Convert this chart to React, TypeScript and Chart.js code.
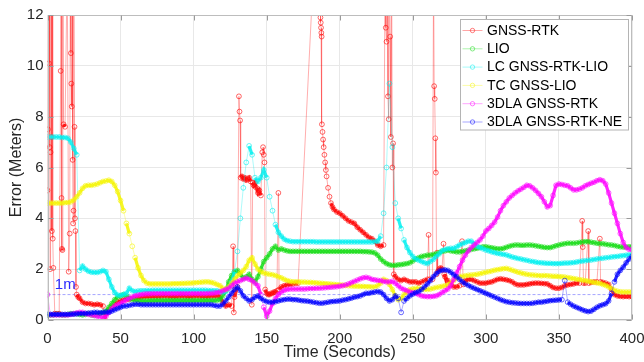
import React, { useEffect, useRef } from "react";
import { Chart, registerables } from "chart.js";

Chart.register(...registerables);

// ---------------- data ----------------
const SERIES_NAMES = [
  "GNSS-RTK",
  "LIO",
  "LC GNSS-RTK-LIO",
  "TC GNSS-LIO",
  "3DLA GNSS-RTK",
  "3DLA GNSS-RTK-NE",
];
const X_TICKS = [0, 50, 100, 150, 200, 250, 300, 350, 400];
const Y_TICKS = [0, 2, 4, 6, 8, 10, 12];
const X_TITLE = "Time (Seconds)";
const Y_TITLE = "Error (Meters)";
const REF_LABEL = "1m";
const REF_VALUE = 1;

// sample clock of the smooth series: one sample every 2 s, 0..400 s
const TIME: number[] = Array.from({ length: 201 }, (_, i) => i * 2);

// GNSS-RTK (irregular samples, spikes go past the top of the axis)
const RTK_T = [
  0, 0.3, 0.6, 0.9, 1.2, 1.5, 1.8, 2.1, 2.4, 2.7, 3.0, 3.3, 3.6, 4.0, 5.0, 6.5, 8.0,
  9.0, 9.3, 9.6, 9.9, 10.2, 10.5, 11.0, 12.0, 13.5, 14.5, 15.2, 15.6, 16.0, 16.3, 16.6,
  16.9, 17.2, 17.5, 17.8, 18.1, 18.5, 18.8, 19.1, 19.5, 20, 21, 22, 24, 26, 28, 30, 32,
  34, 36, 38, 39, 40, 42, 44, 46, 48, 50, 52, 54, 56, 58, 60, 62, 64, 66, 68,
  70, 72, 74, 76, 78, 80, 82, 84, 86, 88, 90, 92, 94, 96, 98, 100, 102, 104, 106, 108,
  110, 112, 114, 116, 118, 120, 122, 124, 126, 127, 127.5, 128, 130, 131, 131.4, 131.8,
  132.2, 133, 134, 135, 136, 137, 138, 139, 139.8, 140.4, 141, 142, 143, 144, 145, 146,
  147, 147.5, 148, 148.5, 149, 150, 151, 152, 153, 154, 155, 156, 157, 158, 158.5, 160,
  162, 164, 166, 168, 170, 171.5, 184, 186.5, 186.8, 187, 187.2, 187.4, 187.6, 187.8,
  188.2, 188.6, 189, 189.5, 190, 190.5, 191, 192, 193, 194, 195, 196, 198, 200, 202,
  204, 206, 208, 210, 212, 214, 216, 218, 220, 222, 224, 226, 228, 230, 231, 231.5, 232,
  232.5, 233, 233.5, 234, 234.5, 235, 235.5, 236, 236.5, 237, 238, 240, 242, 244, 246,
  248, 250, 252, 254, 256, 258, 260, 260.8, 261.5, 263.5, 264.2, 264.6, 265, 265.4,
  265.8, 266.3, 266.6, 267, 268, 269, 270, 271, 271.5, 272, 274, 276, 278, 280, 282,
  283.7, 284.5, 286, 288, 290, 292, 294, 296, 298, 300, 302, 304, 306, 308, 310, 312,
  314, 316, 318, 320, 322, 324, 326, 328, 330, 332, 334, 336, 338, 340, 342, 344, 346,
  348, 350, 352, 354, 356, 358, 360, 362, 364, 365.9, 366.3, 366.8, 368, 370, 370.5,
  372, 374, 376, 378, 378.5, 380, 382, 384, 386, 388, 390, 392, 394, 396, 398, 400,
];
const RTK_V = [
  5.1, 7.5, 14, 10.1, 14, 6.8, 2.0, 6.6, 14, 7.2, 3.5, 14, 3.2, 2.05, 0.25, 0.25, 0.25,
  9.8, 14, 4.8, 2.8, 2.75, 14, 7.7, 7.6, 14, 1.9, 3.4, 14, 10.5, 9.3, 8.4,
  14, 6.3, 3.8, 4.3, 14, 7.6, 4.0, 3.5, 1.3, 1.0, 0.9, 0.85, 0.7, 0.65, 0.65, 0.63, 0.6,
  0.62, 0.6, 0.55, 0.05, 0.25, 0.4, 0.5, 0.6, 0.7, 0.75, 0.8, 0.8, 0.82, 0.85, 0.86, 0.88, 0.9, 0.92, 0.93,
  0.93, 0.94, 0.93, 0.92, 0.94, 0.95, 0.94, 0.93, 0.92, 0.93, 0.94, 0.95, 0.94, 0.93, 0.93, 0.94, 0.95, 0.94, 0.93, 0.92,
  0.93, 0.94, 0.95, 0.94, 0.93, 0.7, 0.55, 0.6, 0.55, 2.9, 0.3, 0.9, 1.3, 8.8, 8.2, 7.85,
  5.6, 5.65, 5.55, 5.6, 5.5, 5.55, 5.6, 5.45, 0.6, 5.4, 5.3, 5.4, 5.2, 5.0, 5.1, 4.9,
  6.6, 6.8, 6.5, 6.2, 1.2, 1.05, 1.0, 1.0, 1.05, 1.05, 1.1, 1.1, 1.15, 5.0, 1.2, 1.3,
  1.35, 1.38, 1.4, 1.42, 1.45, 1.45, 16, 16, 11.9, 11.7, 11.5, 11.3, 11.15, 7.7,
  7.4, 7.1, 6.8, 6.5, 6.2, 5.9, 5.65, 5.2, 4.85, 4.6, 4.45, 4.35, 4.25, 4.2, 4.1,
  4.0, 3.9, 3.85, 3.8, 3.65, 3.55, 3.45, 3.35, 3.25, 3.2, 3.1, 2.95, 2.9, 2.95, 14, 11.5, 10.95,
  14, 8.8, 7.9, 14, 11.15, 7.2, 14, 6.0, 6.95, 1.8, 1.7, 1.6, 1.55, 1.6, 1.55,
  1.5, 1.5, 1.5, 1.45, 1.5, 1.55, 1.6, 3.35, 1.6, 1.6, 14, 9.2, 8.7, 7.15,
  5.8, 1.8, 2.65, 1.9, 2.0, 2.05, 2.0, 3.0, 1.8, 1.7, 1.55, 1.4, 1.3, 1.3, 1.35,
  3.1, 1.4, 1.55, 1.6, 1.6, 1.55, 1.5, 1.45, 1.45, 1.45, 1.48, 1.5, 1.55, 1.6, 1.62, 1.6,
  1.58, 1.55, 1.5, 1.42, 1.38, 1.38, 1.38, 1.4, 1.42, 1.44, 1.45, 1.45, 1.44, 1.43, 1.42, 1.35, 1.28,
  1.25, 1.25, 1.28, 1.35, 1.38, 1.4, 1.42, 1.45, 1.45, 3.9, 2.87, 1.45, 1.45, 3.5, 1.45,
  1.48, 1.5, 1.5, 3.2, 1.5, 1.48, 1.45, 1.4, 1.2, 1.0, 0.95, 0.93, 0.92, 0.93, 0.92, 0.92,
];

// LIO
const LIO = [
  0.2, 0.2, 0.2, 0.22, 0.22, 0.2, 0.2, 0.22, 0.25, 0.25,
  0.25, 0.22, 0.2, 0.22, 0.25, 0.2, 0.18, 0.2, 0.25, 0.3,
  0.35, 0.5, 0.65, 0.8, 0.9, 0.95, 1.0, 0.95, 0.85, 0.8,
  0.78, 0.76, 0.75, 0.75, 0.75, 0.76, 0.76, 0.77, 0.77, 0.77,
  0.77, 0.77, 0.77, 0.77, 0.77, 0.77, 0.77, 0.77, 0.77, 0.77,
  0.77, 0.77, 0.77, 0.77, 0.77, 0.77, 0.77, 0.77, 0.78, 0.8,
  0.95, 1.15, 1.5, 1.75, 1.9, 1.95, 1.8, 1.65, 1.7, 1.8,
  1.6, 1.5, 1.7, 2.0, 2.3, 2.45, 2.6, 2.8, 2.9, 2.75,
  2.8, 2.75, 2.72, 2.7, 2.7, 2.7, 2.7, 2.7, 2.7, 2.7,
  2.7, 2.7, 2.7, 2.7, 2.7, 2.7, 2.7, 2.7, 2.7, 2.7,
  2.7, 2.7, 2.7, 2.7, 2.7, 2.7, 2.7, 2.7, 2.69, 2.69,
  2.68, 2.67, 2.64, 2.55, 2.4, 2.3, 2.22, 2.17, 2.15, 2.15,
  2.17, 2.18, 2.2, 2.22, 2.25, 2.32, 2.4, 2.45, 2.5, 2.52,
  2.55, 2.55, 2.58, 2.6, 2.65, 2.7, 2.72, 2.75, 2.72, 2.7,
  2.68, 2.68, 2.7, 2.72, 2.75, 2.78, 2.8, 2.82, 2.85, 2.88,
  2.88, 2.86, 2.84, 2.82, 2.8, 2.8, 2.82, 2.86, 2.9, 2.93,
  2.95, 2.95, 2.94, 2.94, 2.95, 2.95, 2.94, 2.92, 2.9, 2.88,
  2.86, 2.85, 2.85, 2.88, 2.92, 2.95, 2.98, 3.0, 3.02, 3.02,
  3.02, 3.03, 3.05, 3.07, 3.08, 3.08, 3.06, 3.04, 3.02, 3.0,
  3.0, 2.98, 2.96, 2.95, 2.93, 2.9, 2.88, 2.87, 2.87, 2.88,
  2.88,
];

// LC GNSS-RTK-LIO
const LC = [
  7.2, 7.2, 7.2, 7.2, 7.2, 7.18, 7.18, 7.15, 7.0, 6.75,
  6.5, 1.95, 2.12, 2.0, 1.92, 1.88, 1.87, 1.87, 1.9, 1.95,
  1.9, 1.6, 1.3, 1.08, 0.98, 0.97, 1.0, 1.05, 1.25, 1.15,
  1.12, 1.14, 1.15, 1.15, 1.16, 1.16, 1.17, 1.17, 1.17, 1.17,
  1.17, 1.17, 1.17, 1.17, 1.17, 1.17, 1.17, 1.17, 1.17, 1.17,
  1.17, 1.17, 1.17, 1.17, 1.17, 1.16, 1.16, 1.15, 1.15, 1.12,
  1.1, 1.12, 1.25, 1.5, 1.9, 2.7, 4.0, 5.2, 6.2, 6.85,
  6.5, 5.6, 5.45, 5.6, 5.9, 5.6, 4.85, 4.3, 3.75, 3.45,
  3.3, 3.18, 3.12, 3.1, 3.08, 3.08, 3.08, 3.08, 3.08, 3.08,
  3.08, 3.08, 3.07, 3.07, 3.07, 3.07, 3.07, 3.07, 3.07, 3.07,
  3.07, 3.07, 3.07, 3.07, 3.07, 3.07, 3.07, 3.07, 3.07, 3.07,
  3.07, 3.07, 3.08, 3.1, 3.3, 4.2, 6.0, 9.3, 6.8, 4.6,
  4.0, 3.6, 3.15, 2.85, 2.65, 2.5, 2.4, 2.35, 2.3, 2.25,
  2.22, 2.3, 2.38, 2.5, 2.6, 2.72, 2.78, 2.8, 2.82, 2.82,
  2.88, 2.95, 3.0, 3.05, 3.1, 3.1, 3.0, 2.9, 2.85, 2.8,
  2.75, 2.72, 2.68, 2.65, 2.62, 2.6, 2.58, 2.56, 2.52, 2.48,
  2.45, 2.42, 2.4, 2.37, 2.35, 2.32, 2.3, 2.28, 2.26, 2.25,
  2.24, 2.23, 2.23, 2.22, 2.22, 2.22, 2.23, 2.24, 2.24, 2.25,
  2.26, 2.28, 2.3, 2.32, 2.33, 2.35, 2.36, 2.38, 2.4, 2.42,
  2.43, 2.45, 2.46, 2.48, 2.49, 2.5, 2.52, 2.53, 2.55, 2.56,
  2.57,
];

// TC GNSS-LIO
const TC = [
  4.6, 4.6, 4.6, 4.6, 4.6, 4.6, 4.62, 4.62, 4.65, 4.72,
  4.85, 5.0, 5.18, 5.28, 5.3, 5.3, 5.32, 5.35, 5.4, 5.45,
  5.47, 5.5, 5.45, 5.3, 5.05, 4.7, 4.3, 3.8, 3.4, 2.9,
  2.45, 2.05, 1.75, 1.55, 1.45, 1.42, 1.42, 1.42, 1.42, 1.42,
  1.42, 1.42, 1.42, 1.43, 1.43, 1.43, 1.44, 1.44, 1.45, 1.45,
  1.46, 1.47, 1.48, 1.49, 1.5, 1.5, 1.48, 1.45, 1.4, 1.35,
  1.25, 1.2, 1.3, 1.45, 1.6, 1.75, 1.85, 1.95, 2.1, 2.35,
  2.45, 2.2, 2.0, 1.9, 1.85, 1.82, 1.8, 1.78, 1.75, 1.7,
  1.66, 1.6, 1.55, 1.52, 1.5, 1.5, 1.5, 1.49, 1.49, 1.48,
  1.48, 1.47, 1.46, 1.45, 1.44, 1.43, 1.42, 1.41, 1.4, 1.39,
  1.38, 1.37, 1.36, 1.35, 1.34, 1.33, 1.33, 1.32, 1.32, 1.31,
  1.31, 1.3, 1.3, 1.35, 1.45, 1.6, 1.55, 1.4, 1.2, 0.95,
  0.8, 0.85, 1.0, 1.1, 1.2, 1.22, 1.25, 1.25, 1.22, 1.2,
  1.2, 1.22, 1.25, 1.28, 1.3, 1.32, 1.35, 1.38, 1.45, 1.55,
  1.65, 1.7, 1.72, 1.74, 1.76, 1.77, 1.78, 1.8, 1.82, 1.85,
  1.88, 1.9, 1.93, 1.96, 1.98, 2.0, 2.02, 2.03, 2.0, 1.96,
  1.92, 1.88, 1.85, 1.82, 1.8, 1.78, 1.77, 1.76, 1.75, 1.74,
  1.75, 1.74, 1.73, 1.72, 1.72, 1.71, 1.7, 1.69, 1.67, 1.65,
  1.63, 1.61, 1.59, 1.57, 1.55, 1.53, 1.5, 1.48, 1.46, 1.44,
  1.4, 1.36, 1.3, 1.24, 1.17, 1.13, 1.11, 1.1, 1.1, 1.1,
  1.1,
];

// 3DLA GNSS-RTK
const DLA = [
  1.0, 0.2, 0.2, 0.2, 0.2, 0.2, 0.2, 0.2, 0.22, 0.25,
  0.28, 0.3, 0.3, 0.25, 0.22, 0.2, 0.18, 0.15, 0.12, 0.1,
  0.15, 0.3, 0.45, 0.55, 0.6, 0.65, 0.72, 0.8, 0.85, 0.9,
  0.95, 0.98, 1.0, 1.02, 1.03, 1.03, 1.04, 1.04, 1.04, 1.04,
  1.04, 1.04, 1.04, 1.04, 1.04, 1.04, 1.04, 1.04, 1.04, 1.04,
  1.04, 1.04, 1.04, 1.04, 1.04, 1.05, 1.05, 1.06, 1.08, 1.1,
  1.15, 1.2, 1.25, 1.35, 1.45, 1.5, 1.55, 1.6, 1.65, 1.6,
  1.55, 1.45, 1.35, 1.0, 0.5, 0.15, 0.35, 0.65, 0.85, 1.0,
  1.1, 1.17, 1.2, 1.22, 1.22, 1.22, 1.22, 1.22, 1.22, 1.23,
  1.24, 1.24, 1.25, 1.25, 1.26, 1.27, 1.28, 1.29, 1.3, 1.31,
  1.33, 1.35, 1.38, 1.42, 1.47, 1.52, 1.57, 1.62, 1.66, 1.68,
  1.65, 1.6, 1.58, 1.56, 1.55, 1.52, 1.5, 1.5, 1.52, 1.45,
  1.35, 1.25, 1.2, 1.15, 1.1, 1.08, 1.05, 1.0, 0.95, 0.93,
  0.92, 0.92, 0.93, 0.95, 1.0, 1.08, 1.15, 1.22, 1.35, 1.6,
  1.85, 2.1, 2.35, 2.55, 2.72, 2.85, 2.95, 3.05, 3.15, 3.3,
  3.5, 3.6, 3.72, 3.85, 4.05, 4.3, 4.5, 4.65, 4.8, 4.9,
  5.0, 5.08, 5.15, 5.22, 5.3, 5.28, 5.2, 5.1, 4.98, 4.85,
  4.65, 4.45, 4.5, 4.9, 5.3, 5.35, 5.33, 5.3, 5.28, 5.2,
  5.12, 5.12, 5.15, 5.2, 5.28, 5.33, 5.38, 5.42, 5.48, 5.52,
  5.48, 5.35, 5.0, 4.6, 4.2, 3.8, 3.4, 3.05, 2.85, 2.78,
  2.76,
];

// 3DLA GNSS-RTK-NE
const DLA_NE = [
  0.22, 0.22, 0.22, 0.22, 0.22, 0.22, 0.22, 0.22, 0.23, 0.23,
  0.24, 0.25, 0.25, 0.26, 0.27, 0.28, 0.3, 0.3, 0.28, 0.3,
  0.32, 0.3, 0.35, 0.4, 0.45, 0.5, 0.55, 0.55, 0.58, 0.6,
  0.62, 0.62, 0.6, 0.6, 0.6, 0.6, 0.6, 0.6, 0.6, 0.6,
  0.6, 0.6, 0.6, 0.6, 0.6, 0.6, 0.6, 0.6, 0.6, 0.6,
  0.6, 0.6, 0.6, 0.6, 0.6, 0.6, 0.6, 0.58, 0.55, 0.55,
  0.62, 0.75, 0.9, 1.05, 1.2, 1.3, 1.15, 0.95, 0.85, 0.75,
  0.8, 0.9, 0.95, 0.85, 0.78, 0.72, 0.7, 0.7, 0.72, 0.75,
  0.78, 0.8, 0.82, 0.82, 0.8, 0.8, 0.78, 0.76, 0.75, 0.74,
  0.72, 0.7, 0.68, 0.66, 0.66, 0.68, 0.7, 0.72, 0.73, 0.74,
  0.75, 0.78, 0.8, 0.83, 0.86, 0.9, 0.92, 0.95, 1.0, 1.05,
  1.05, 1.08, 1.1, 1.12, 1.1, 1.0, 0.85, 0.75, 0.8, 0.95,
  0.85, 0.3, 0.75, 0.85, 0.95, 1.02, 1.08, 1.12, 1.2, 1.3,
  1.42, 1.55, 1.7, 1.82, 1.92, 1.96, 1.97, 1.95, 1.88, 1.78,
  1.7, 1.6, 1.5, 1.42, 1.36, 1.3, 1.25, 1.2, 1.15, 1.1,
  1.05, 1.0, 0.95, 0.9, 0.85, 0.8, 0.76, 0.72, 0.7, 0.68,
  0.67, 0.66, 0.65, 0.65, 0.65, 0.65, 0.66, 0.68, 0.7, 0.7,
  0.72, 0.74, 0.76, 0.77, 0.78, 0.79, 0.8, 1.55, 0.7, 0.62,
  0.55, 0.5, 0.45, 0.4, 0.36, 0.33, 0.35, 0.42, 0.5, 0.56,
  0.6, 0.64, 0.75, 1.05, 1.5, 1.8, 1.95, 2.08, 2.25, 2.4,
  2.5,
];

// ---------------- styles ----------------
const FONT = '"Liberation Sans", Arial, Helvetica, sans-serif';
const RGB = ["255,0,0", "20,220,20", "0,240,240", "245,245,0", "255,0,255", "0,0,255"];
const TEXT = "#262626";
const STEEP = 0.22; // value change per second above which a segment is a thin jump line

const pairs = (xs: number[], ys: number[]) => ys.map((v, i) => ({ x: xs[i], y: v }));
const isSteep = (c: any) =>
  Math.abs(c.p1.parsed.y - c.p0.parsed.y) / Math.max(1e-6, c.p1.parsed.x - c.p0.parsed.x) > STEEP;

const decorPlugin = {
  id: "decor",
  afterDatasetsDraw(chart: any) {
    const { ctx, chartArea: a, scales } = chart;
    const xs = scales.x;
    const ys = scales.y;
    ctx.save();
    // axis box
    ctx.strokeStyle = "#bdbdbd";
    ctx.lineWidth = 1;
    const L = Math.round(a.left) + 0.5;
    const R = Math.round(a.right) - 0.5;
    const Tp = Math.round(a.top) + 0.5;
    const B = Math.round(a.bottom) - 0.5;
    ctx.strokeRect(L, Tp, R - L, B - Tp);
    // inner ticks
    ctx.strokeStyle = "#9a9a9a";
    ctx.beginPath();
    for (const t of X_TICKS) {
      const px = Math.round(xs.getPixelForValue(t)) + 0.5;
      ctx.moveTo(px, Tp);
      ctx.lineTo(px, Tp + 5);
      ctx.moveTo(px, B);
      ctx.lineTo(px, B - 5);
    }
    for (const t of Y_TICKS) {
      const py = Math.round(ys.getPixelForValue(t)) + 0.5;
      ctx.moveTo(L, py);
      ctx.lineTo(L + 5, py);
      ctx.moveTo(R, py);
      ctx.lineTo(R - 5, py);
    }
    ctx.stroke();

    // 1m label
    ctx.fillStyle = "#2a2aff";
    ctx.font = `15px ${FONT}`;
    ctx.textAlign = "left";
    ctx.textBaseline = "middle";
    ctx.fillText(REF_LABEL, xs.getPixelForValue(5), ys.getPixelForValue(1.38));

    // legend
    const lw = 168;
    const lh = 110.5;
    const lx = Math.round(a.right) - 4 - lw + 0.5;
    const ly = Math.round(a.top) + 4.5;
    ctx.fillStyle = "#ffffff";
    ctx.fillRect(lx, ly, lw, lh);
    ctx.strokeStyle = "#b4b4b4";
    ctx.strokeRect(lx, ly, lw, lh);
    ctx.font = `14px ${FONT}`;
    ctx.textBaseline = "middle";
    SERIES_NAMES.forEach((name, i) => {
      const cy = ly + 11 + i * 18.3;
      ctx.strokeStyle = `rgba(${RGB[i]},0.35)`;
      ctx.lineWidth = 1;
      ctx.beginPath();
      ctx.moveTo(lx + 2, cy);
      ctx.lineTo(lx + 22, cy);
      ctx.stroke();
      ctx.strokeStyle = `rgba(${RGB[i]},0.5)`;
      ctx.beginPath();
      ctx.arc(lx + 12, cy, 2.2, 0, Math.PI * 2);
      ctx.stroke();
      ctx.fillStyle = "#000000";
      ctx.fillText(name, lx + 26.5, cy + 0.5);
    });
    ctx.restore();
  },
};

export default function App() {
  const ref = useRef<HTMLCanvasElement | null>(null);

  useEffect(() => {
    if (!ref.current) return;
    const seriesData = [
      pairs(RTK_T, RTK_V),
      pairs(TIME, LIO),
      pairs(TIME, LC),
      pairs(TIME, TC),
      pairs(TIME, DLA),
      pairs(TIME, DLA_NE),
    ];
    const datasets: any[] = seriesData.map((d, i) => ({
      label: SERIES_NAMES[i],
      data: d,
      borderColor: `rgba(${RGB[i]},0.85)`,
      borderWidth: 3.2,
      segment: {
        borderWidth: (c: any) => (isSteep(c) ? 1 : 3.2),
        borderColor: (c: any) => (isSteep(c) ? `rgba(${RGB[i]},0.32)` : `rgba(${RGB[i]},0.85)`),
      },
      pointRadius: 2.4,
      pointBorderWidth: 1,
      pointBorderColor: `rgba(${RGB[i]},0.6)`,
      pointBackgroundColor: "rgba(0,0,0,0)",
      pointHoverRadius: 2.4,
      fill: false,
      tension: 0,
      order: 6 - i,
    }));
    datasets.push({
      label: REF_LABEL,
      data: [
        { x: 0, y: REF_VALUE },
        { x: 400, y: REF_VALUE },
      ],
      borderColor: "rgba(90,90,255,0.55)",
      borderWidth: 1,
      borderDash: [3, 2],
      pointRadius: 0,
      fill: false,
      order: 10,
    });

    const chart = new Chart(ref.current, {
      type: "line",
      data: { datasets },
      options: {
        responsive: false,
        animation: false,
        devicePixelRatio: 1,
        parsing: false as any,
        normalized: true,
        layout: { padding: { left: 0, right: 12, top: 15, bottom: 0 } },
        plugins: {
          legend: { display: false },
          tooltip: { enabled: false },
        },
        events: [],
        scales: {
          x: {
            type: "linear",
            min: 0,
            max: 400,
            afterBuildTicks: (s: any) => {
              s.ticks = X_TICKS.map((v) => ({ value: v }));
            },
            afterFit: (s: any) => {
              s.height = 42;
              s.paddingLeft = 0;
              s.paddingRight = 0;
            },
            ticks: {
              color: TEXT,
              font: { family: FONT, size: 15 },
              padding: 10,
              maxRotation: 0,
              autoSkip: false,
            },
            grid: { color: "#e8e8e8", drawTicks: false },
            border: { display: false },
            title: {
              display: true,
              text: X_TITLE,
              color: TEXT,
              font: { family: FONT, size: 16 },
              padding: { top: 0, bottom: 0 },
            },
          },
          y: {
            type: "linear",
            min: 0,
            max: 12,
            afterBuildTicks: (s: any) => {
              s.ticks = Y_TICKS.map((v) => ({ value: v }));
            },
            afterFit: (s: any) => {
              s.width = 47.5;
              s.paddingTop = 0;
              s.paddingBottom = 0;
            },
            ticks: {
              color: TEXT,
              font: { family: FONT, size: 15 },
              padding: 4,
            },
            grid: { color: "#e8e8e8", drawTicks: false },
            border: { display: false },
            title: {
              display: true,
              text: Y_TITLE,
              color: TEXT,
              font: { family: FONT, size: 16 },
              padding: { top: 7, bottom: 0 },
            },
          },
        },
      },
      plugins: [decorPlugin],
    });
    return () => chart.destroy();
  }, []);

  return (
    <div style={{ position: "fixed", left: 0, top: 0, width: 644, height: 362, background: "#ffffff" }}>
      <canvas ref={ref} width={644} height={362} style={{ display: "block", width: 644, height: 362 }} />
    </div>
  );
}
